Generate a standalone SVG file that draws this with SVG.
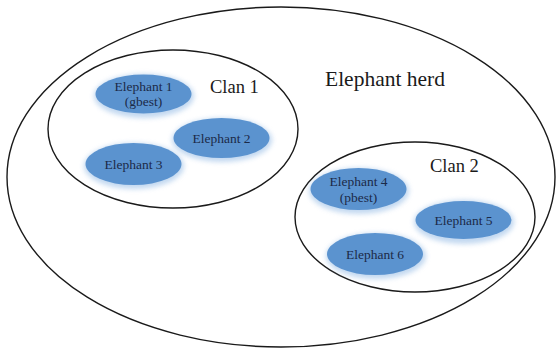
<svg xmlns="http://www.w3.org/2000/svg" width="557" height="351" viewBox="0 0 557 351">
<style>
.ring{fill:none;stroke:#1a1a1a;stroke-width:1.4}
.el{fill:#5b93cf}
.halo{fill:#a9c8ea;opacity:0.7}
.lbl{font-family:"Liberation Serif","Times New Roman",serif;font-size:13.5px;fill:#1b2a48;text-anchor:middle}
.big{font-family:"Liberation Serif","Times New Roman",serif;fill:#1a1a1a}
</style>
<defs>
<filter id="blur" x="-30%" y="-50%" width="160%" height="200%"><feGaussianBlur stdDeviation="2.5"/></filter>
</defs>
<rect width="557" height="351" fill="#ffffff"/>
<g id="herd">
<ellipse class="ring" cx="281" cy="177" rx="274" ry="170"/>
<text class="big" x="325" y="86" font-size="21.5">Elephant herd</text>
</g>
<g id="clan1">
<ellipse class="ring" cx="173" cy="129" rx="125" ry="79"/>
<text class="big" x="210" y="93" font-size="18.5">Clan 1</text>
</g>
<g id="clan2">
<ellipse class="ring" cx="415" cy="217" rx="120" ry="75"/>
<text class="big" x="430" y="172" font-size="18.5">Clan 2</text>
</g>
<g id="elephant1">
<ellipse class="halo" cx="144" cy="96" rx="50" ry="22" filter="url(#blur)"/>
<ellipse class="el" cx="143.5" cy="94" rx="48" ry="19.5"/>
<text class="lbl" x="143.5" y="91">Elephant 1</text>
<text class="lbl" x="143.5" y="106">(gbest)</text>
</g>
<g id="elephant2">
<ellipse class="halo" cx="222" cy="140" rx="50" ry="22" filter="url(#blur)"/>
<ellipse class="el" cx="221.5" cy="138" rx="48" ry="20"/>
<text class="lbl" x="221.5" y="143">Elephant 2</text>
</g>
<g id="elephant3">
<ellipse class="halo" cx="134" cy="166" rx="50" ry="23" filter="url(#blur)"/>
<ellipse class="el" cx="133.5" cy="164" rx="48" ry="21"/>
<text class="lbl" x="133.5" y="169">Elephant 3</text>
</g>
<g id="elephant4">
<ellipse class="halo" cx="359" cy="191" rx="50" ry="23" filter="url(#blur)"/>
<ellipse class="el" cx="358.5" cy="189" rx="48" ry="21"/>
<text class="lbl" x="358.5" y="186">Elephant 4</text>
<text class="lbl" x="358.5" y="202">(pbest)</text>
</g>
<g id="elephant5">
<ellipse class="halo" cx="464" cy="222" rx="50" ry="22" filter="url(#blur)"/>
<ellipse class="el" cx="463.5" cy="220" rx="48" ry="19"/>
<text class="lbl" x="463.5" y="224.5">Elephant 5</text>
</g>
<g id="elephant6">
<ellipse class="halo" cx="376" cy="256" rx="50" ry="23" filter="url(#blur)"/>
<ellipse class="el" cx="375" cy="254" rx="48" ry="21"/>
<text class="lbl" x="375" y="259">Elephant 6</text>
</g>
<g id="connectors"/>
</svg>
